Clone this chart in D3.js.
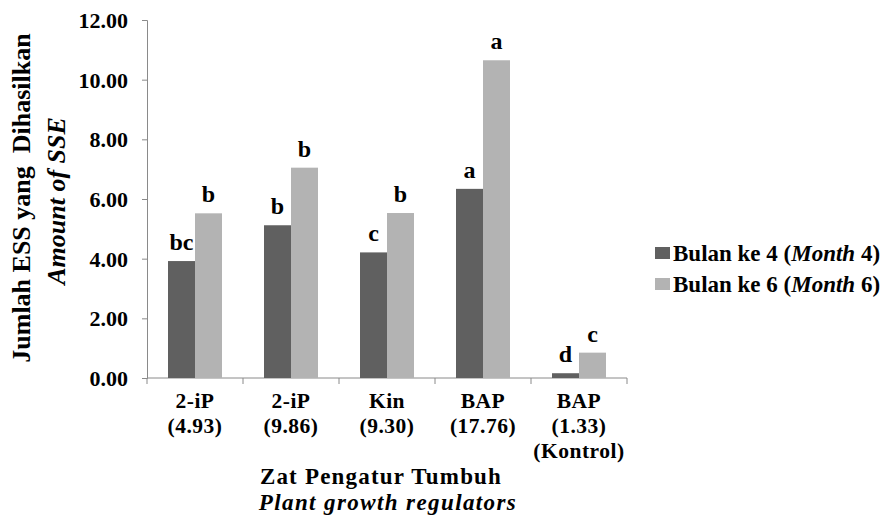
<!DOCTYPE html>
<html>
<head>
<meta charset="utf-8">
<script src="https://cdn.jsdelivr.net/npm/d3@7"></script>
<style>
  html, body { margin: 0; padding: 0; background: #fff; }
  svg text { font-family: "Liberation Serif", "Times New Roman", serif; font-weight: bold; fill: #000; }
</style>
</head>
<body>
<svg id="chart" width="889" height="515"></svg>
<script>
// Treatments (plant growth regulator and concentration)
const categories = ["2-iP|(4.93)", "2-iP|(9.86)", "Kin|(9.30)", "BAP|(17.76)", "BAP|(1.33)|(Kontrol)"];
// Number of SSE per treatment
const month4 = [3.92, 5.12, 4.21, 6.34, 0.16];
const month6 = [5.52, 7.05, 5.53, 10.65, 0.85];
// Significance letters above each bar
const letters4 = ["bc", "b", "c", "a", "d"];
const letters6 = ["b", "b", "b", "a", "c"];
const yTicks = [0, 2, 4, 6, 8, 10, 12];
const seriesNames = ["Bulan ke 4", "Bulan ke 6"];
const seriesMonths = ["4", "6"];
const colors = ["#606060", "#b3b3b3"];

const svg = d3.select("#chart");
const serif = "'Liberation Serif', 'Times New Roman', serif";
const plotLeft = 147, plotRight = 627, plotTop = 20, plotBottom = 378;

const y = d3.scaleLinear().domain([0, 12]).range([plotBottom, plotTop]);
const x = d3.scaleBand().domain(categories).range([plotLeft, plotRight]).paddingInner(0).paddingOuter(0);
const barW = 27;

// Y axis
const yAxis = d3.axisLeft(y).tickValues(yTicks).tickFormat(d3.format(".2f")).tickSize(5).tickPadding(14);
const gy = svg.append("g").attr("transform", `translate(${plotLeft},0)`).call(yAxis)
  .attr("font-family", serif);
gy.select(".domain").attr("stroke", "#8a8a8a");
gy.selectAll(".tick line").attr("stroke", "#8a8a8a");
gy.selectAll(".tick text").style("font-size", "22px").attr("fill", "#000").attr("dy", "0.34em");

// X axis line with tick marks at category boundaries
const gx = svg.append("g").attr("transform", `translate(0,${plotBottom})`);
gx.append("line").attr("x1", plotLeft).attr("x2", plotRight).attr("stroke", "#8a8a8a");
const bounds = categories.map(c => x(c)).concat([plotRight]);
gx.selectAll("line.tk").data(bounds).join("line").attr("class", "tk")
  .attr("x1", d => d).attr("x2", d => d).attr("y1", 0).attr("y2", 6).attr("stroke", "#8a8a8a");

// Category labels (multi-line)
categories.forEach(c => {
  const lines = c.split("|");
  const cx = x(c) + x.bandwidth() / 2;
  const t = svg.append("text").attr("x", cx).attr("y", 408)
    .attr("text-anchor", "middle").style("font-size", "21.5px").style("letter-spacing", "0.5px");
  lines.forEach((ln, i) => t.append("tspan").attr("x", cx).attr("dy", i ? 25 : 0).text(ln));
});

// Bars and letters
const series = [month4, month6];
const letters = [letters4, letters6];
series.forEach((vals, s) => {
  const g = svg.append("g");
  g.selectAll("rect").data(vals).join("rect")
    .attr("x", (d, i) => x(categories[i]) + x.bandwidth() / 2 - barW + s * barW)
    .attr("y", d => y(d))
    .attr("width", barW)
    .attr("height", d => y(0) - y(d))
    .attr("fill", colors[s]);
  g.selectAll("text").data(vals).join("text")
    .attr("x", (d, i) => x(categories[i]) + x.bandwidth() / 2 - barW / 2 + s * barW)
    .attr("y", d => y(d) - 11)
    .attr("text-anchor", "middle")
    .style("font-size", "24px")
    .text((d, i) => letters[s][i]);
});

// Y axis title
const yt = svg.append("g").attr("transform", "translate(0,198) rotate(-90)");
yt.append("text").attr("x", 0).attr("y", 30).attr("text-anchor", "middle")
  .style("white-space", "pre").style("font-size", "26px").text("Jumlah ESS yang  Dihasilkan");
yt.append("text").attr("x", -3).attr("y", 65).attr("text-anchor", "middle")
  .style("font-size", "26px").style("font-style", "italic").text("Amount of SSE");

// X axis title
svg.append("text").attr("x", 381).attr("y", 484).attr("text-anchor", "middle")
  .style("font-size", "23px").style("letter-spacing", "1.2px").text("Zat Pengatur Tumbuh");
svg.append("text").attr("x", 388).attr("y", 509.5).attr("text-anchor", "middle")
  .style("font-size", "23px").style("font-style", "italic").style("letter-spacing", "1.4px")
  .text("Plant growth regulators");

// Legend
const lg = svg.append("g").attr("transform", "translate(655,0)");
seriesNames.forEach((n, i) => {
  const cy = 253 + i * 31;
  lg.append("rect").attr("x", 0).attr("y", cy - 6).attr("width", 15).attr("height", 12).attr("fill", colors[i]);
  const t = lg.append("text").attr("x", 18).attr("y", cy + 8).style("font-size", "23px");
  t.append("tspan").text(n + " (");
  t.append("tspan").style("font-style", "italic").text("Month");
  t.append("tspan").text(" " + seriesMonths[i] + ")");
});
</script>
</body>
</html>
